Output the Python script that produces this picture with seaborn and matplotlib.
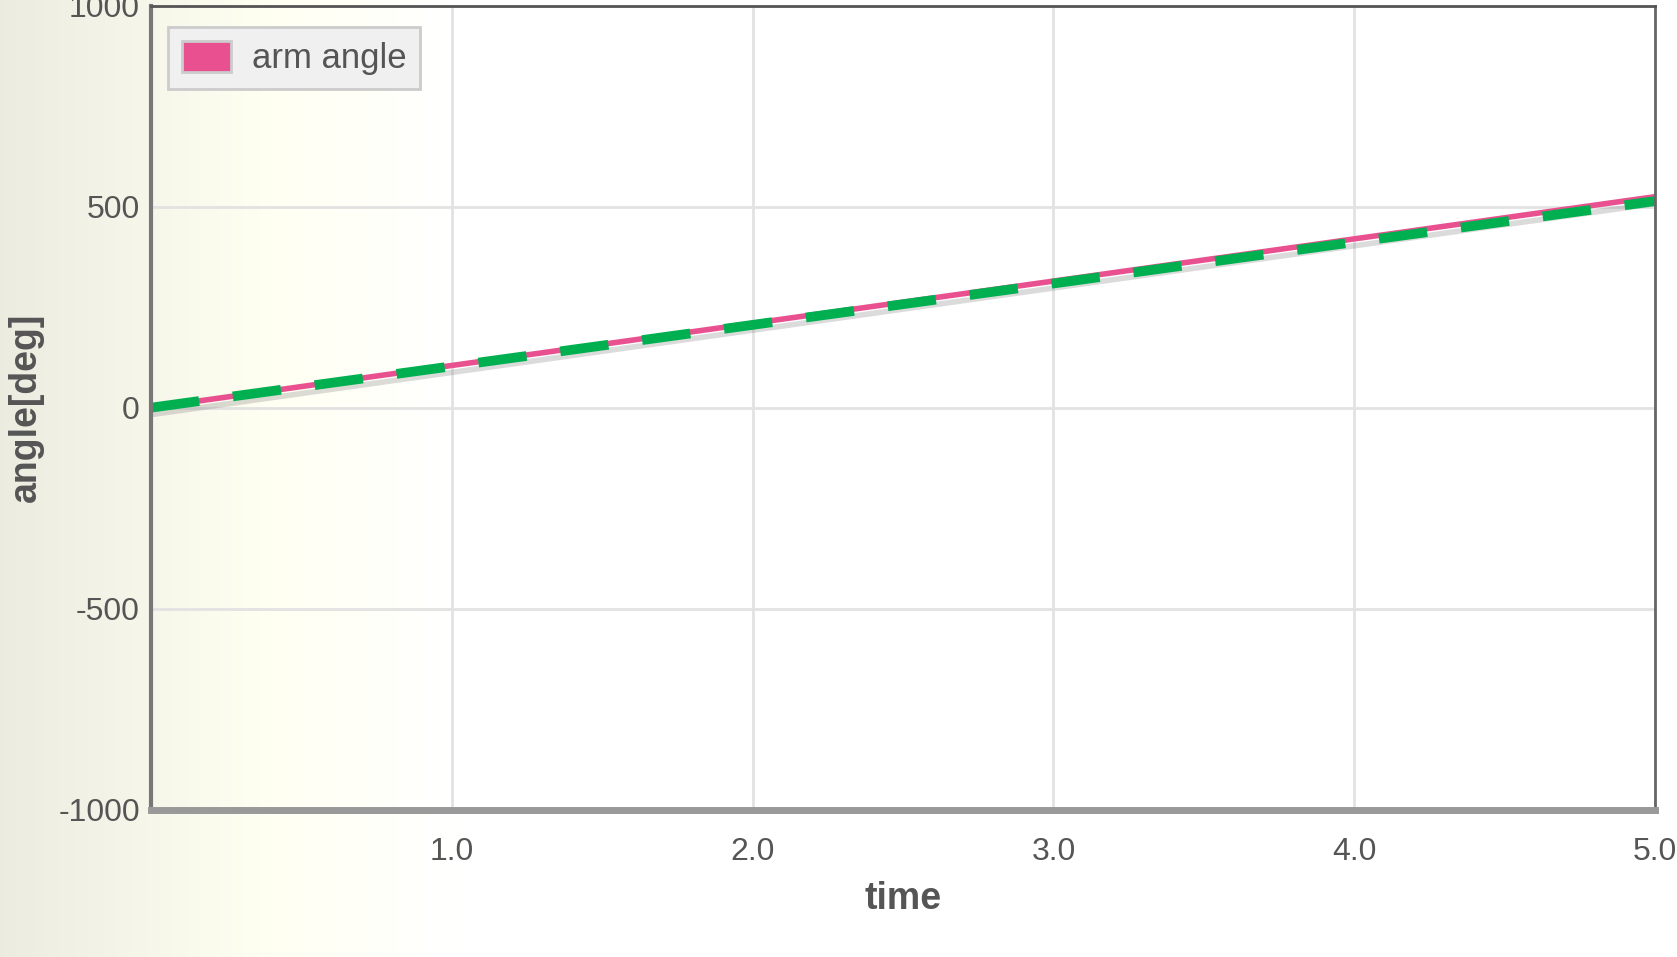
import numpy as np
import pandas as pd
import matplotlib
matplotlib.use("Agg")
import matplotlib.pyplot as plt
import matplotlib.patheffects as pe
from matplotlib.patches import Patch
import seaborn as sns

# values
time = [0.0, 1.0, 2.0, 3.0, 4.0, 5.0]
arm_angle = [0, 105, 210, 315, 420, 525]
ref_angle = [0, 103, 206, 309, 412, 514]
x_ticks = [1.0, 2.0, 3.0, 4.0, 5.0]
y_ticks = [-1000, -500, 0, 500, 1000]

df = pd.DataFrame({"time": time, "arm angle": arm_angle, "ref": ref_angle})

sns.set_theme(style="white")
plt.rcParams['font.family'] = ['Liberation Sans', 'DejaVu Sans']

fig = plt.figure(figsize=(16.77, 9.57), dpi=100)

# background gradient: beige on the left fading to white
bg = fig.add_axes([0, 0, 1, 1], zorder=-10)
grad = np.linspace(0, 1, 400)
grad = np.clip(grad / 0.27, 0, 1)
c0 = np.array([0.925, 0.925, 0.88])
c1 = np.array([1.0, 1.0, 0.95])
c2 = np.array([1.0, 1.0, 1.0])
cols = np.zeros((1, 400, 3))
for i, g in enumerate(grad):
    if g < 0.6:
        t = g / 0.6
        cols[0, i] = c0 * (1 - t) + c1 * t
    else:
        t = (g - 0.6) / 0.4
        cols[0, i] = c1 * (1 - t) + c2 * t
bg.imshow(cols, aspect="auto", extent=[0, 1, 0, 1])
bg.axis("off")

ax = fig.add_axes([0.09, 0.154, 0.897, 0.84])
ax.patch.set_alpha(0)

sns.lineplot(data=df, x="time", y="arm angle", ax=ax, color="#e8508f", lw=4,
             path_effects=[pe.SimpleLineShadow(offset=(0, -5), shadow_color="#888888", alpha=0.3),
                           pe.Normal()])
sns.lineplot(data=df, x="time", y="ref", ax=ax, color="#00b050", lw=7,
             linestyle=(0, (5, 3.5)))

ax.set_xlim(0, 5)
ax.set_ylim(-1000, 1000)
ax.set_xticks(x_ticks)
ax.set_xticklabels([f"{v:.1f}" for v in x_ticks])
ax.set_yticks(y_ticks)
ax.set_yticklabels([str(v) for v in y_ticks])
ax.grid(True, color="#e2e2e2", lw=2)
ax.set_axisbelow(True)
ax.tick_params(axis="x", length=0, pad=20, labelsize=23, colors="#555555")
ax.tick_params(axis="y", length=0, pad=8, labelsize=23, colors="#555555")

ax.set_xlabel("time", fontsize=27, fontweight="bold", color="#555555", labelpad=10)
ax.set_ylabel("angle[deg]", fontsize=27, fontweight="bold", color="#555555", labelpad=10)

for side, col, w in [("left", "#777777", 3), ("bottom", "#999999", 5),
                     ("top", "#555555", 2), ("right", "#666666", 2)]:
    ax.spines[side].set_color(col)
    ax.spines[side].set_linewidth(w)

handle = Patch(facecolor="#e8508f", edgecolor="#cccccc", lw=2, label="arm angle")
leg = ax.legend(handles=[handle], loc="upper left", bbox_to_anchor=(0.0, 0.995),
                fontsize=25, frameon=True, fancybox=False, handlelength=1.4,
                handleheight=1.0, borderpad=0.4, handletextpad=0.6, labelcolor="#555555")
leg.get_frame().set_facecolor("#f0f0f0")
leg.get_frame().set_edgecolor("#cccccc")
leg.get_frame().set_linewidth(2)
leg.get_frame().set_alpha(1)

fig.savefig("out.png", dpi=100)
